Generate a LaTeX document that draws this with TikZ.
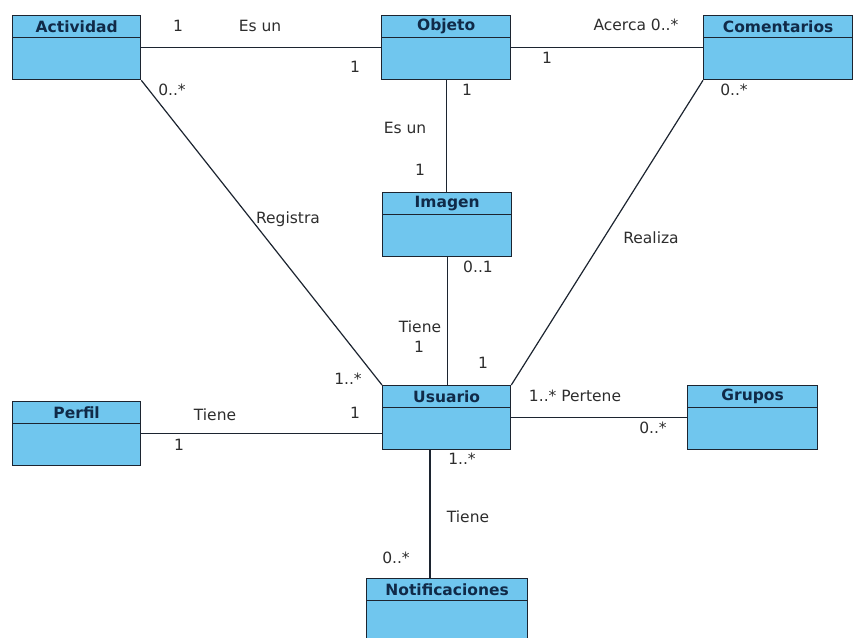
\documentclass[tikz,border=0pt]{standalone}
\usepackage{fontspec}
\setmainfont{DejaVu Sans}
\definecolor{boxfill}{RGB}{112,198,238}
\definecolor{boxline}{RGB}{28,36,48}
\definecolor{titlecol}{RGB}{16,42,72}
\definecolor{lblcol}{RGB}{45,45,45}
\tikzset{
  cls/.style={draw=boxline, fill=boxfill, line width=1.3pt, rectangle, inner sep=0pt, anchor=north west},
  hdr/.style={draw=boxline, line width=1.3pt},
  ttl/.style={font=\fontsize{15.5}{18}\selectfont\bfseries, text=titlecol, inner sep=0pt},
  lbl/.style={font=\fontsize{15.5}{18}\selectfont, text=lblcol, inner sep=0pt},
  assoc/.style={draw=boxline, line width=1.2pt},
}
\newcommand\umlclass[6]{%
  \node[cls, minimum width=#4pt, minimum height=#5pt] (#1) at (#2,#3) {};
  \draw[hdr] ([yshift=-22.5pt]#1.north west) -- ([yshift=-22.5pt]#1.north east);
  \node[ttl] (#1-t) at ([yshift=-11.5pt]#1.north) {#6};
}
\begin{document}
\begin{tikzpicture}[x=1pt, y=-1pt]
\useasboundingbox (0,0) rectangle (853,637);
% classes
\umlclass{act}{12}{15}{128}{64}{Actividad}
\umlclass{obj}{381}{15}{129}{64}{Objeto}
\umlclass{com}{703}{15}{149}{64}{Comentarios}
\umlclass{img}{382}{192}{129}{64}{Imagen}
\umlclass{usr}{382}{385}{128}{64}{Usuario}
\umlclass{per}{12}{401}{128}{64}{Perfil}
\umlclass{gru}{687}{385}{130}{64}{Grupos}
\umlclass{not}{366}{578}{161}{74}{Notificaciones}
% connectors
\draw[assoc] (act.east) -- (obj.west);
\draw[assoc] (obj.east) -- (com.west);
\draw[assoc] (obj.south) -- (obj.south |- img.north);
\draw[assoc] (img.south) -- (img.south |- usr.north);
\draw[assoc] (act.south east) -- (usr.north west);
\draw[assoc] (com.south west) -- (usr.north east);
\draw[assoc] (per.east) -- (per.east -| usr.west);
\draw[assoc] (usr.east) -- (gru.west);
\coordinate (ub) at ([xshift=48pt]usr.south west);
\draw[assoc] (ub) -- (ub |- not.north);
% labels
\node[lbl] (l1) at (178,26) {1};
\node[lbl] (l2) at (260,26) {Es un};
\node[lbl] (l3) at (355,67) {1};
\node[lbl] (l4) at (172,90) {0..*};
\node[lbl] (l5) at (636,25) {Acerca 0..*};
\node[lbl] (l6) at (547,58) {1};
\node[lbl] (l7) at (467,90) {1};
\node[lbl] (l8) at (734,90) {0..*};
\node[lbl] (l9) at (405,128) {Es un};
\node[lbl] (l10) at (420,170) {1};
\node[lbl] (l11) at (288,219) {Registra};
\node[lbl] (l12) at (651,238) {Realiza};
\node[lbl] (l13) at (478,267) {0..1};
\node[lbl] (l14) at (420,327) {Tiene};
\node[lbl] (l15) at (419,347) {1};
\node[lbl] (l16) at (483,363) {1};
\node[lbl] (l17) at (348,379) {1..*};
\node[lbl] (l18) at (355,413) {1};
\node[lbl] (l19) at (215,415) {Tiene};
\node[lbl] (l20) at (179,445) {1};
\node[lbl] (l21) at (575,396) {1..* Pertene};
\node[lbl] (l22) at (653,428) {0..*};
\node[lbl] (l23) at (462,459) {1..*};
\node[lbl] (l24) at (468,517) {Tiene};
\node[lbl] (l25) at (396,558) {0..*};
\end{tikzpicture}
\end{document}
